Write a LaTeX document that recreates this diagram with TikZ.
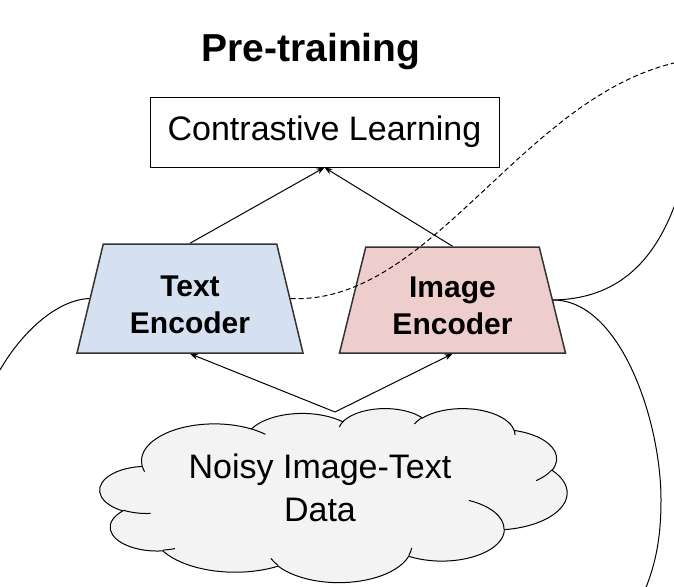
\documentclass[tikz,border=0pt]{standalone}
\usepackage{fontspec}
\setmainfont{Liberation Sans}
\usetikzlibrary{shapes.geometric,arrows.meta}
\definecolor{encblue}{HTML}{D5E1F1}
\definecolor{encred}{HTML}{EECDCD}
\definecolor{cloudgray}{HTML}{F3F3F3}
\tikzset{
    enc/.style={trapezium,trapezium left angle=76,trapezium right angle=76,
        trapezium stretches=true,draw=black!80,line width=1.5pt,
        minimum width=226pt,align=center,
        font=\fontsize{30}{37}\selectfont\bfseries},
    con/.style={-{Stealth[length=8pt,width=6pt]},line width=1pt},
    wire/.style={line width=1pt},
}
% one bump of the cloud: x radius, y radius, start, sweep (visual angles)
\newcommand{\puff}[4]{\pgfextra{%
    \pgfmathparse{vis(#3,#1,#2)}\xdef\puffs{\pgfmathresult}%
    \pgfmathparse{\puffs+mod(vis(#3+#4,#1,#2)-\puffs+720,360)}\xdef\puffe{\pgfmathresult}}%
    arc[start angle=\puffs,end angle=\puffe,x radius=#1,y radius=#2]}
\newcommand{\lift}{\rule{0pt}{33pt}}
\begin{document}
\begin{tikzpicture}[x=1pt,y=-1pt,
    declare function={vis(\a,\w,\h)=atan2(\w*sin(\a),\h*cos(\a));}]
    \useasboundingbox (0,0) rectangle (674,586);
    \node[font=\fontsize{39}{46}\selectfont\bfseries,anchor=base] (title) at (311,62) {Pre-training};
    \node[draw,line width=1pt,minimum width=349pt,minimum height=70pt,
        font=\fontsize{34}{40}\selectfont] (cl) at (324.5,132) {Contrastive Learning};
    \node[enc,fill=encblue,minimum height=109pt] (te) at (190,298.5) {\lift Text\\Encoder};
    \node[enc,fill=encred,minimum height=106pt] (ie) at (452.5,300) {\lift Image\\Encoder};
    % cloud
    \begin{scope}[shift={(100,408)},x=1.081pt,y=-0.4028pt]
        \filldraw[fill=cloudgray,line width=1pt] (39,143.7)
        \puff{67.53}{91.90}{-190.48748}{123.78053}
        \puff{53.33}{72.67}{-144.10238}{89.94523}
        \puff{43.65}{59.45}{-145.80792}{99.72302}
        \puff{48.57}{65.95}{-130.98607}{117.24173}
        \puff{53.33}{72.73}{-78.70888}{109.02692}
        \puff{67.75}{92.20}{-46.26725}{130.269}
        \puff{57.85}{78.67}{0.62502}{114.03333}
        \puff{67.52}{92.15}{22.4516}{115.17255}
        \puff{77.20}{105.43}{66.24263}{75.71102}
        \puff{43.60}{59.18}{-274.94208}{146.73557}
        \puff{43.45}{59.45}{-246.8285}{152.51885} -- cycle;
        \draw[wire]
        (46.93,261.77) \puff{43.45}{59.45}{86.742}{26.4295}
        (69.28,348.99) \puff{43.60}{59.18}{73.61047}{11.44747}
        (164.78,390.90) \puff{67.52}{92.15}{137.62415}{14.0811}
        (288.27,347.51) \puff{67.52}{92.15}{6.45327}{15.99835}
        (341.29,229.54) \puff{57.85}{78.67}{-70.29235}{70.91737}
        (417.98,153.54) \puff{53.33}{72.73}{30.31803}{27.7515}
        (383.24,54.26) \puff{48.57}{65.95}{-13.74433}{14.8589}
        (290.78,39.52) \puff{48.57}{65.95}{-149.18145}{18.19537}
        (221.41,47.20) \puff{43.65}{59.45}{-163.49427}{17.68635}
        (140.00,51.92) \puff{67.53}{91.90}{-66.70695}{12.31935}
        (41.27,157.89) \puff{67.53}{91.90}{157.65435}{11.85817};
    \end{scope}
    \node[font=\fontsize{34}{43}\selectfont,align=center] (data) at (320,488) {Noisy Image-Text\\Data};
    \coordinate (top) at (335,412);
    \coordinate (outl) at (0,370);
    \coordinate (outtr) at (674,63);
    \coordinate (outr) at (674,207);
    \coordinate (outb) at (645,590);
    \draw[con] (te.north) -- (cl.south);
    \draw[con] (ie.north) -- (cl.south);
    \draw[con] (top) -- (te.south);
    \draw[con] (top) -- (ie.south);
    \draw[wire] (te.west) .. controls (55,300) and (20,335) .. (outl);
    \draw[wire,dash pattern=on 5pt off 3pt] (te.east) .. controls (430,305) and (520,100) .. (outtr);
    \draw[wire] (ie.east) .. controls (610,299) and (650,270) .. (outr);
    \draw[wire] (ie.east) .. controls (620,300) and (661,420) .. (661,500)
    .. controls (661,540) and (655,565) .. (outb);
\end{tikzpicture}
\end{document}
